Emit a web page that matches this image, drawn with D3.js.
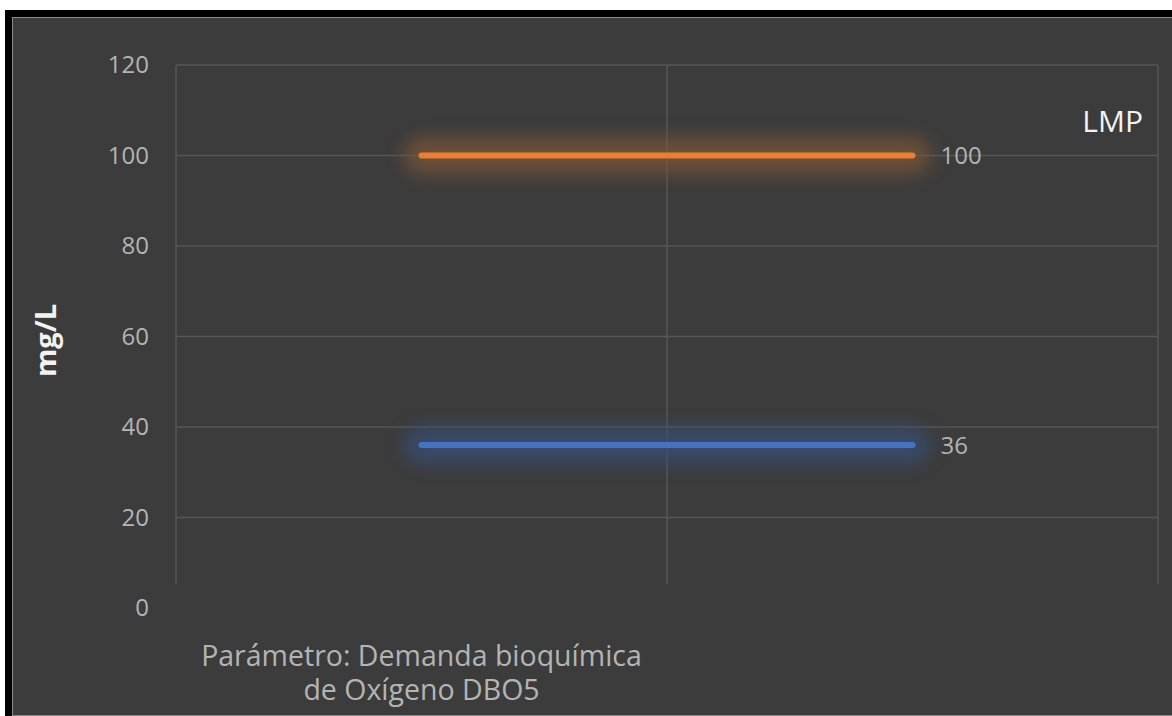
<!DOCTYPE html>
<html>
<head>
<meta charset="utf-8">
<script src="https://cdn.jsdelivr.net/npm/d3@7"></script>
<style>
  html, body { margin: 0; padding: 0; background: #ffffff; }
  svg { display: block; font-family: "Open Sans", "Noto Sans", sans-serif; }
</style>
</head>
<body>
<svg id="chart" width="1172" height="716"></svg>
<script>
// Chart data
const categories = ['Parámetro: Demanda bioquímica|de Oxígeno DBO5', ''];
const lmpValues = [100, 100];
const resultValues = [36, 36];
const yTicks = [0, 20, 40, 60, 80, 100, 120];
const seriesNames = ['LMP', 'Resultado'];

const svg = d3.select('#chart');

// Frame: white strip, black border, chart area
svg.append('rect').attr('x', 0).attr('y', 0).attr('width', 1172).attr('height', 716).attr('fill', '#ffffff');
svg.append('rect').attr('x', 5).attr('y', 10).attr('width', 1167).attr('height', 706).attr('fill', '#000000');
svg.append('rect').attr('x', 12).attr('y', 17).attr('width', 1160).attr('height', 699).attr('fill', '#8a8a8a');
svg.append('rect').attr('x', 13).attr('y', 18).attr('width', 1159).attr('height', 697).attr('fill', '#3c3c3c');

// Plot area
const plotLeft = 176, plotRight = 1158, plotTop = 65, plotBottom = 608, gridBottom = 584;

const x = d3.scaleBand()
  .domain(d3.range(categories.length))
  .range([plotLeft, plotRight]);

const y = d3.scaleLinear()
  .domain([0, 120])
  .range([plotBottom, plotTop]);

// Glow filter (user space, since the lines have zero height)
const defs = svg.append('defs');
const glow = defs.append('filter').attr('id', 'glow')
  .attr('filterUnits', 'userSpaceOnUse')
  .attr('x', 0).attr('y', 0).attr('width', 1172).attr('height', 716);
glow.append('feGaussianBlur').attr('stdDeviation', 9);

// Horizontal grid lines (no line at 0)
svg.append('g')
  .selectAll('line')
  .data(yTicks.filter(d => d > 0))
  .join('line')
  .attr('x1', plotLeft).attr('x2', plotRight)
  .attr('y1', d => y(d)).attr('y2', d => y(d))
  .attr('stroke', '#565656')
  .attr('stroke-width', 1.5);

// Vertical grid lines at category boundaries
const vlines = d3.range(categories.length + 1).map(i => i < categories.length ? x(i) : x.range()[1]);
svg.append('g')
  .selectAll('line')
  .data(vlines)
  .join('line')
  .attr('x1', d => d).attr('x2', d => d)
  .attr('y1', plotTop).attr('y2', gridBottom)
  .attr('stroke', '#565656')
  .attr('stroke-width', 1.5);

// Y tick labels
svg.append('g')
  .selectAll('text')
  .data(yTicks)
  .join('text')
  .attr('x', 149)
  .attr('y', d => y(d))
  .attr('dy', '0.35em')
  .attr('text-anchor', 'end')
  .attr('fill', '#b4b4b4')
  .attr('font-size', 24)
  .text(d => d);

// Y axis title
svg.append('text')
  .attr('transform', `translate(56, ${(plotTop + plotBottom) / 2 + 4}) rotate(-90)`)
  .attr('text-anchor', 'middle')
  .attr('fill', '#f2f2f2')
  .attr('font-size', 29)
  .attr('font-weight', 'bold')
  .text('mg/L');

// Category labels
categories.forEach((c, i) => {
  const lines = c.split('|');
  const t = svg.append('text')
    .attr('x', x(i) + x.bandwidth() / 2)
    .attr('y', 666)
    .attr('text-anchor', 'middle')
    .attr('fill', '#b4b4b4')
    .attr('font-size', 28.5);
  lines.forEach((ln, k) => {
    if (!ln) return;
    t.append('tspan')
      .attr('x', x(i) + x.bandwidth() / 2)
      .attr('dy', k === 0 ? 0 : 34)
      .text(ln);
  });
});

// Lines with glow
const line = d3.line()
  .x((d, i) => x(i) + x.bandwidth() / 2)
  .y(d => y(d));

const series = [
  { name: seriesNames[0], values: lmpValues, color: '#ed7d31', glow: '#7e5637' },
  { name: seriesNames[1], values: resultValues, color: '#4472c4', glow: '#384f78' }
];

series.forEach(s => {
  svg.append('path')
    .datum(s.values)
    .attr('d', line)
    .attr('fill', 'none')
    .attr('stroke', s.glow)
    .attr('stroke-width', 36)
    .attr('stroke-linecap', 'round')
    .attr('opacity', 0.75)
    .attr('filter', 'url(#glow)');
  svg.append('path')
    .datum(s.values)
    .attr('d', line)
    .attr('fill', 'none')
    .attr('stroke', s.color)
    .attr('stroke-width', 6)
    .attr('stroke-linecap', 'round');

  // Data label at last point
  const last = s.values.length - 1;
  svg.append('text')
    .attr('x', x(last) + x.bandwidth() / 2 + 28)
    .attr('y', y(s.values[last]))
    .attr('dy', '0.35em')
    .attr('fill', '#b4b4b4')
    .attr('font-size', 24)
    .text(s.values[last]);
});

// Series label
svg.append('text')
  .attr('x', 1143)
  .attr('y', 121)
  .attr('dy', '0.35em')
  .attr('text-anchor', 'end')
  .attr('fill', '#f2f2f2')
  .attr('font-size', 30)
  .text(seriesNames[0]);
</script>
</body>
</html>
